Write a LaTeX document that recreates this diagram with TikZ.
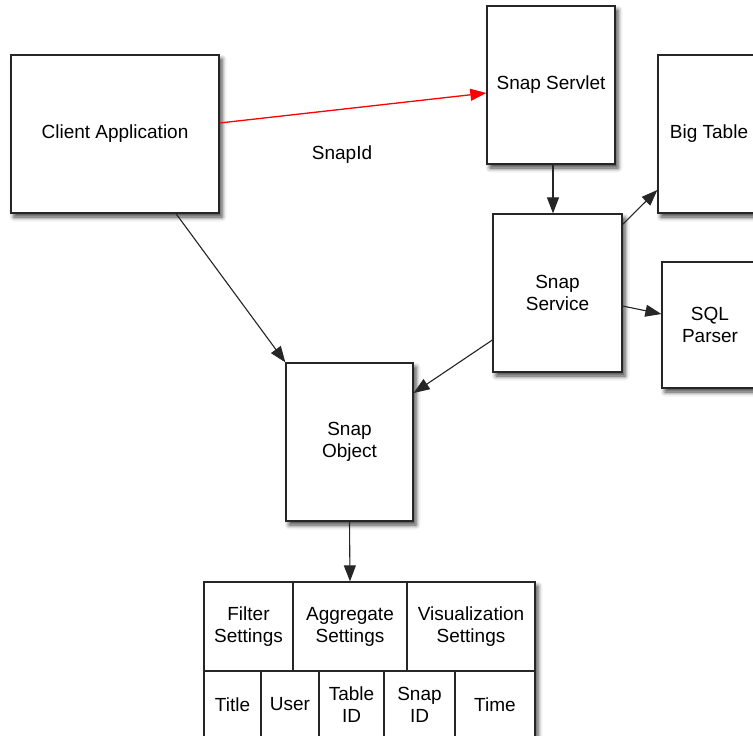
\documentclass[tikz,border=0pt]{standalone}
\usepackage{fontspec}
\setmainfont{Liberation Sans}
\usetikzlibrary{arrows.meta,shadows.blur}
\begin{document}
\begin{tikzpicture}[x=1pt,y=-1pt,
  txt/.style={font=\fontsize{19}{22}\selectfont,align=center},
  box/.style={txt,draw=black!85,line width=1.3pt,fill=white,inner sep=0pt,
    blur shadow={shadow xshift=3pt,shadow yshift=-4pt,shadow blur radius=4.5pt,shadow opacity=75}},
  cell/.style={txt,draw=black!85,line width=1.3pt,fill=white,inner sep=0pt},
  arr/.style={-{Triangle[length=16pt,width=12pt]},line width=1.1pt,draw=black!85}
]
\useasboundingbox (0,0) rectangle (753,736);
\clip (0,0) rectangle (753,736);

\node[box,minimum width=208pt,minimum height=158pt] (client) at (115,134) {Client Application};
\node[box,minimum width=128pt,minimum height=158pt] (servlet) at (551,85) {Snap Servlet};
\node[box,minimum width=102pt,minimum height=158pt] (bigtable) at (709,134) {Big Table};
\node[box,minimum width=129pt,minimum height=158pt] (service) at (557.5,293) {Snap\\Service};
\node[box,minimum width=96pt,minimum height=126pt] (sql) at (710,325) {SQL\\Parser};
\node[box,minimum width=127pt,minimum height=158pt] (object) at (349.5,442) {Snap\\Object};

% table shadow
\node[box,minimum width=331pt,minimum height=156pt] (tablebg) at (369.5,660) {};
\node[cell,minimum width=89pt,minimum height=89pt] (filter) at (248.5,626.5) {Filter\\Settings};
\node[cell,minimum width=114pt,minimum height=89pt] (agg) at (350,626.5) {Aggregate\\Settings};
\node[cell,minimum width=128pt,minimum height=89pt] (vis) at (471,626.5) {Visualization\\Settings};
\node[cell,minimum width=57pt,minimum height=67pt] (title) at (232.5,704.5) {Title};
\node[cell,minimum width=58pt,minimum height=67pt] (user) at (290,704.5) {User};
\node[cell,minimum width=65pt,minimum height=67pt] (tableid) at (351.5,704.5) {Table\\ID};
\node[cell,minimum width=71pt,minimum height=67pt] (snapid) at (419.5,704.5) {Snap\\ID};
\node[cell,minimum width=80pt,minimum height=67pt] (time) at (495,704.5) {Time};

\node[txt] (lbl) at (342,155) {SnapId};

\draw[arr,draw=red,fill=red,line width=1.3pt] ([yshift=11pt]client.east) -- ([yshift=-8pt]servlet.west);
\draw[arr,fill=black!85] ([xshift=2pt]servlet.south) -- ([xshift=-4.5pt]service.north);
\draw[arr,fill=black!85] ([xshift=61pt]client.south) -- (object.north west);
\draw[arr,fill=black!85] ([yshift=-47pt]service.west) -- ([yshift=49pt]object.east);
\draw[arr,fill=black!85] ([yshift=-11pt]service.north east) -- ([yshift=-56pt]bigtable.west);
\draw[arr,fill=black!85] ([yshift=-13pt]service.east) -- ([yshift=11pt]sql.west);
\draw[arr,fill=black!85] (object.south) -- (agg.north);
\end{tikzpicture}
\end{document}
